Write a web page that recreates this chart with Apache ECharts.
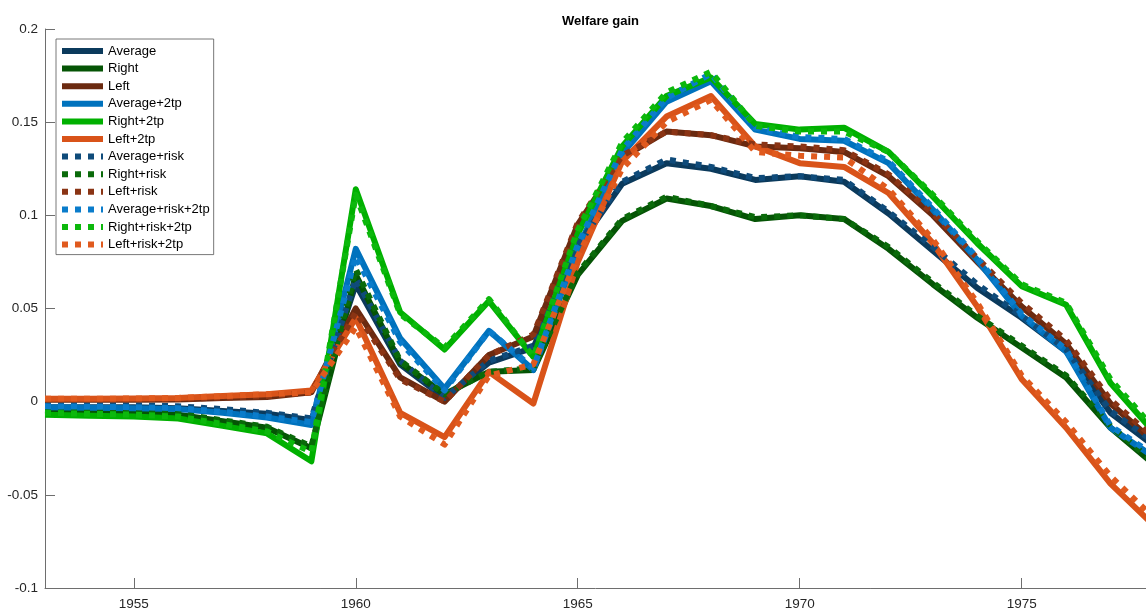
<!DOCTYPE html>
<html>
<head>
<meta charset="utf-8">
<script src="https://cdn.jsdelivr.net/npm/echarts@6/dist/echarts.min.js"></script>
<style>
    html, body { margin: 0; padding: 0; background: #fff; }
    #chart { width: 1146px; height: 611px; }
</style>
</head>
<body>
<div id="chart"></div>
<script>
    // years on the x axis
    const years = [1953, 1954, 1955, 1956, 1957, 1958, 1959, 1960, 1961, 1962, 1963, 1964, 1965,
        1966, 1967, 1968, 1969, 1970, 1971, 1972, 1973, 1974, 1975, 1976, 1977, 1978]

    // solid lines
    const average = [-0.003, -0.003, -0.003, -0.0035, -0.005, -0.0065, -0.010, 0.063, 0.020, 0.002, 0.021, 0.029, 0.083,
        0.117, 0.128, 0.125, 0.119, 0.121, 0.118, 0.101, 0.081, 0.061, 0.045, 0.027, -0.006, -0.024]
    const right = [-0.005, -0.0055, -0.006, -0.007, -0.0105, -0.014, -0.025, 0.068, 0.021, 0.004, 0.016, 0.017, 0.068,
        0.097, 0.109, 0.105, 0.098, 0.100, 0.098, 0.082, 0.063, 0.045, 0.029, 0.013, -0.014, -0.034]
    const left = [0.001, 0.001, 0.001, 0.0012, 0.002, 0.0025, 0.005, 0.050, 0.013, 0.000, 0.025, 0.035, 0.095,
        0.131, 0.145, 0.143, 0.137, 0.136, 0.134, 0.121, 0.100, 0.075, 0.051, 0.031, -0.001, -0.022]
    const average2tp = [-0.003, -0.0032, -0.0035, -0.004, -0.006, -0.0085, -0.0125, 0.082, 0.034, 0.007, 0.038, 0.017, 0.082,
        0.133, 0.161, 0.172, 0.146, 0.141, 0.140, 0.128, 0.103, 0.076, 0.046, 0.027, -0.014, -0.030]
    const right2tp = [-0.007, -0.0075, -0.008, -0.009, -0.013, -0.017, -0.032, 0.114, 0.048, 0.028, 0.054, 0.024, 0.090,
        0.137, 0.164, 0.174, 0.149, 0.146, 0.147, 0.134, 0.110, 0.085, 0.062, 0.052, 0.010, -0.017]
    const left2tp = [0.0015, 0.0015, 0.0017, 0.002, 0.003, 0.004, 0.006, 0.045, -0.006, -0.019, 0.016, -0.001, 0.075,
        0.129, 0.153, 0.164, 0.137, 0.128, 0.126, 0.112, 0.085, 0.051, 0.012, -0.014, -0.044, -0.067]

    // dotted lines
    const averageRisk = [-0.002, -0.002, -0.002, -0.0025, -0.004, -0.006, -0.009, 0.066, 0.022, 0.002, 0.022, 0.030, 0.084,
        0.118, 0.130, 0.126, 0.120, 0.121, 0.119, 0.102, 0.083, 0.063, 0.046, 0.028, -0.005, -0.022]
    const rightRisk = [-0.0045, -0.005, -0.0055, -0.0065, -0.010, -0.0135, -0.024, 0.071, 0.022, 0.004, 0.016, 0.018, 0.069,
        0.098, 0.110, 0.105, 0.099, 0.100, 0.098, 0.083, 0.064, 0.046, 0.030, 0.014, -0.013, -0.033]
    const leftRisk = [0.0012, 0.0012, 0.0012, 0.0014, 0.0022, 0.003, 0.005, 0.048, 0.012, 0.000, 0.025, 0.036, 0.096,
        0.132, 0.145, 0.143, 0.138, 0.137, 0.135, 0.122, 0.101, 0.077, 0.053, 0.033, 0.001, -0.020]
    const average2tpRisk = [-0.0025, -0.0027, -0.003, -0.0035, -0.0055, -0.008, -0.011, 0.078, 0.032, 0.006, 0.038, 0.018, 0.084,
        0.135, 0.163, 0.176, 0.147, 0.142, 0.141, 0.129, 0.104, 0.077, 0.047, 0.028, -0.013, -0.029]
    const right2tpRisk = [-0.006, -0.0065, -0.007, -0.008, -0.012, -0.016, -0.027, 0.111, 0.047, 0.029, 0.055, 0.024, 0.092,
        0.139, 0.166, 0.177, 0.148, 0.145, 0.145, 0.134, 0.111, 0.086, 0.063, 0.053, 0.012, -0.015]
    const left2tpRisk = [0.0015, 0.0015, 0.0017, 0.002, 0.003, 0.004, 0.005, 0.040, -0.008, -0.023, 0.014, 0.020, 0.078,
        0.125, 0.150, 0.162, 0.134, 0.132, 0.131, 0.114, 0.087, 0.053, 0.014, -0.011, -0.040, -0.063]

    const xTicks = [1955, 1960, 1965, 1970, 1975]

    const lines = [
        { name: 'Average', data: average, color: '#0b3a5c', dotted: false },
        { name: 'Right', data: right, color: '#055405', dotted: false },
        { name: 'Left', data: left, color: '#6b2a10', dotted: false },
        { name: 'Average+2tp', data: average2tp, color: '#0072bd', dotted: false },
        { name: 'Right+2tp', data: right2tp, color: '#00b000', dotted: false },
        { name: 'Left+2tp', data: left2tp, color: '#d95319', dotted: false },
        { name: 'Average+risk', data: averageRisk, color: '#0f4b7a', dotted: true },
        { name: 'Right+risk', data: rightRisk, color: '#0a6a0a', dotted: true },
        { name: 'Left+risk', data: leftRisk, color: '#8a3414', dotted: true },
        { name: 'Average+risk+2tp', data: average2tpRisk, color: '#0a7ccb', dotted: true },
        { name: 'Right+risk+2tp', data: right2tpRisk, color: '#0cb80c', dotted: true },
        { name: 'Left+risk+2tp', data: left2tpRisk, color: '#e05a1e', dotted: true }
    ]

    const dotDash = [6, 7]
    const axisColor = '#6e6e6e'
    const labelColor = '#262626'
    const font = 'Liberation Sans, Arial'

    const chart = echarts.init(document.getElementById('chart'))
    const options = {
        animation: false,
        title: {
            text: 'Welfare gain',
            left: 557,
            top: 10,
            textStyle: { fontFamily: font, fontSize: 13, fontWeight: 'bold', color: '#000' }
        },
        legend: {
            orient: 'vertical',
            left: 56,
            top: 39,
            padding: [5, 4, 3, 3],
            backgroundColor: '#fff',
            borderColor: '#555',
            borderWidth: 0.8,
            borderRadius: 0,
            itemWidth: 41,
            itemHeight: 6,
            itemGap: 3.6,
            textStyle: { fontFamily: font, fontSize: 13, color: '#000', lineHeight: 14 },
            data: lines.map(l => ({
                name: l.name,
                itemStyle: { opacity: 0 },
                lineStyle: { color: l.color, width: 6, type: l.dotted ? dotDash : 'solid', cap: 'butt' }
            }))
        },
        grid: {
            left: 45,
            right: 0,
            top: 29,
            bottom: 23
        },
        xAxis: {
            type: 'value',
            min: 1953,
            max: 1977.8,
            splitLine: { show: false },
            axisLine: { onZero: false, lineStyle: { color: axisColor, width: 1 } },
            axisTick: { inside: true, length: 10, customValues: xTicks, lineStyle: { color: axisColor } },
            axisLabel: {
                customValues: xTicks,
                formatter: v => String(v),
                margin: 9,
                fontFamily: font,
                fontSize: 13.5,
                color: labelColor
            }
        },
        yAxis: {
            type: 'value',
            min: -0.1,
            max: 0.2,
            interval: 0.05,
            splitLine: { show: false },
            axisLine: { show: true, onZero: false, lineStyle: { color: axisColor, width: 1 } },
            axisTick: { show: true, inside: true, length: 10, lineStyle: { color: axisColor } },
            axisLabel: {
                margin: 7,
                fontFamily: font,
                fontSize: 13.5,
                color: labelColor
            }
        },
        series: lines.map(l => ({
            name: l.name,
            type: 'line',
            data: years.map((y, i) => [y, l.data[i]]),
            symbol: 'none',
            color: l.color,
            lineStyle: {
                color: l.color,
                width: 6,
                type: l.dotted ? dotDash : 'solid',
                cap: 'butt',
                join: 'round'
            }
        }))
    }
    chart.setOption(options)
</script>
</body>
</html>
